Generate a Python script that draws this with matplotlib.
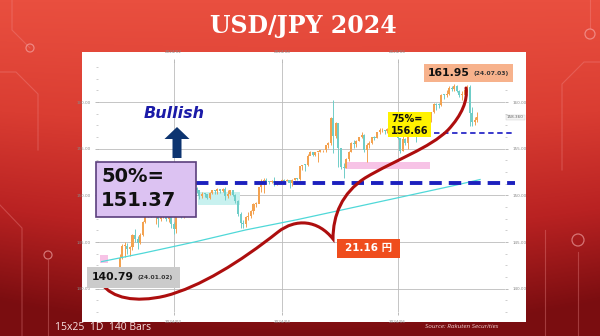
import numpy as np
import pandas as pd
import matplotlib.pyplot as plt
from matplotlib.patches import Rectangle, FancyArrow, PathPatch, Circle
from matplotlib.path import Path
from matplotlib.colors import LinearSegmentedColormap

# USD/JPY daily bars 2024-01-02 .. 2024-07-16
close_jan = [141.96, 143.29, 144.61, 144.62, 144.23, 144.43, 145.73, 145.31, 144.87, 145.73, 147.19,
             148.13, 148.16, 148.13, 148.12, 148.38, 147.45, 147.66, 148.15, 147.49, 147.66, 146.93]
high_jan = [142.20, 143.70, 144.80, 145.00, 144.90, 144.60, 145.90, 146.40, 145.60, 146.00, 147.30,
            148.50, 148.50, 148.40, 148.30, 148.70, 147.90, 147.80, 148.30, 148.20, 147.90, 147.80]
low_jan = [140.79, 142.20, 143.20, 143.40, 143.70, 143.50, 144.20, 145.00, 144.30, 144.80, 145.60,
           147.00, 147.70, 147.70, 147.80, 146.90, 146.60, 147.30, 147.60, 147.30, 147.20, 146.50]

close_feb = [146.44, 148.38, 148.69, 147.94, 148.18, 149.29, 149.27, 149.35, 150.80, 150.56, 149.95,
             150.19, 150.13, 149.70, 150.31, 150.53, 150.47, 150.69, 150.50, 150.67, 149.98]
high_feb = [147.10, 148.60, 148.90, 148.70, 148.40, 149.60, 149.50, 149.60, 150.90, 150.90, 150.60,
            150.40, 150.30, 150.20, 150.40, 150.60, 150.60, 150.80, 150.70, 150.80, 150.90]
low_feb = [145.90, 146.00, 148.20, 147.60, 147.60, 148.00, 149.00, 149.10, 149.30, 150.30, 149.60,
           149.70, 149.80, 149.60, 149.60, 150.20, 150.20, 150.20, 150.30, 150.40, 149.50]

close_mar = [150.10, 150.53, 150.00, 149.37, 148.05, 147.06, 146.94, 147.67, 147.77, 148.34, 149.04,
             149.12, 150.89, 151.26, 151.61, 151.43, 151.42, 151.54, 151.30, 151.36, 151.35]
high_mar = [150.60, 150.60, 150.60, 150.20, 149.50, 148.20, 147.40, 147.80, 148.20, 148.40, 149.20,
            149.30, 150.90, 151.80, 151.90, 151.90, 151.50, 151.70, 151.97, 151.50, 151.40]
low_mar = [149.70, 150.00, 149.90, 149.20, 147.80, 146.50, 146.50, 146.60, 147.40, 147.60, 148.00,
           148.80, 149.20, 150.40, 150.30, 151.20, 151.20, 151.30, 151.00, 151.10, 151.20]

close_apr = [151.63, 151.57, 151.68, 151.35, 151.61, 151.86, 151.78, 153.17, 153.29, 153.27, 154.23,
             154.68, 154.38, 154.64, 154.64, 154.82, 154.82, 155.35, 155.60, 158.32, 156.36, 157.80]
high_apr = [151.80, 151.80, 151.80, 151.70, 151.80, 151.90, 151.90, 153.20, 153.30, 153.40, 154.40,
            154.80, 154.70, 154.70, 154.70, 154.90, 154.90, 155.40, 155.70, 158.40, 160.20, 157.90]
low_apr = [151.30, 151.50, 151.50, 150.80, 151.00, 151.70, 151.60, 151.70, 152.70, 152.60, 153.10,
           154.30, 154.20, 154.20, 153.60, 154.60, 154.60, 154.70, 155.10, 155.40, 154.50, 156.20]

close_may = [155.04, 153.01, 152.97, 153.89, 154.67, 155.59, 155.48, 155.78, 156.21, 156.43, 154.89,
             155.41, 155.67, 156.28, 156.18, 156.78, 156.96, 156.99, 156.88, 157.17, 157.63, 156.81, 157.25]
high_may = [157.80, 155.00, 153.50, 154.00, 154.80, 155.70, 155.90, 155.90, 156.20, 156.80, 156.60,
            155.60, 155.80, 156.30, 156.40, 156.80, 157.20, 157.20, 157.00, 157.20, 157.70, 157.70, 157.30]
low_may = [153.00, 152.80, 151.86, 152.90, 153.70, 154.60, 155.10, 155.20, 155.80, 156.20, 154.70,
           153.60, 155.10, 155.50, 155.90, 156.10, 156.60, 156.80, 156.60, 156.70, 157.10, 156.40, 156.50]

close_jun = [156.10, 154.78, 156.09, 155.60, 156.73, 157.04, 157.13, 156.70, 157.07, 157.39,
             157.74, 157.85, 158.07, 158.89, 159.79, 159.70, 159.68, 160.80, 160.75, 160.88]
high_jun = [157.30, 156.20, 156.40, 156.20, 157.00, 157.20, 157.20, 157.50, 157.30, 158.30,
            157.90, 158.00, 158.20, 158.90, 159.90, 159.90, 159.90, 160.90, 160.90, 161.30]
low_jun = [156.00, 154.50, 154.80, 155.40, 155.00, 156.70, 156.90, 155.70, 156.60, 156.70,
           157.30, 157.60, 157.80, 157.90, 158.80, 159.20, 159.40, 159.60, 160.30, 160.60]

close_jul = [161.46, 161.45, 161.72, 161.22, 160.77, 160.80, 161.31, 161.67, 158.85, 157.84, 158.08, 158.36]
high_jul = [161.70, 161.70, 161.95, 161.80, 161.30, 161.20, 161.40, 161.80, 161.80, 159.50, 158.40, 158.90]
low_jul = [160.80, 161.20, 161.20, 161.10, 160.50, 160.20, 160.70, 161.10, 157.40, 157.40, 157.50, 157.90]

open_first = 141.00  # close of 2023-12-29

closes = close_jan + close_feb + close_mar + close_apr + close_may + close_jun + close_jul
highs = high_jan + high_feb + high_mar + high_apr + high_may + high_jun + high_jul
lows = low_jan + low_feb + low_mar + low_apr + low_may + low_jun + low_jul
opens = [open_first] + closes[:-1]
dates = pd.bdate_range('2024-01-02', '2024-07-16')

# 200-day moving average (cyan line), read at some bars
ma_idx = [-6, 10, 30, 50, 70, 90, 110, 130, 141]
ma_val = [142.9, 143.8, 145.0, 146.3, 147.4, 148.6, 149.8, 151.0, 151.7]

low_val, low_date = 140.79, '(24.01.02)'
high_val, high_date = 161.95, '(24.07.03)'
fib50 = 151.37
fib75 = 156.66
move_yen = 21.16

y_ticks = [140, 145, 150, 155, 160]
month_starts = ['2024-02', '2024-04', '2024-06']

W, H = 600, 336
fig = plt.figure(figsize=(6, 3.36), dpi=100)

# ---- background slide
bg = fig.add_axes([0, 0, 1, 1])
cmap = LinearSegmentedColormap.from_list('slide', ['#e94f3f', '#da3d32', '#b92222', '#7a0d10'])
yy = np.linspace(0, 1, H)[:, None]
xx = np.linspace(-1, 1, W)[None, :]
shade = np.clip(yy ** 1.1 + 0.12 * xx ** 2 * yy, 0, 1)
bg.imshow(shade, cmap=cmap, extent=[0, W, H, 0], aspect='auto', vmin=0, vmax=1)
bg.set_xlim(0, W)
bg.set_ylim(H, 0)
bg.axis('off')

# circuit decoration
circ_col = '#f29090'
for pts in [[(0, 72), (16, 72), (38, 94), (38, 150)],
            [(12, 0), (12, 30), (30, 48)],
            [(0, 205), (22, 228), (22, 336)],
            [(48, 260), (48, 336)],
            [(600, 62), (584, 62), (562, 84), (562, 170)],
            [(578, 252), (578, 336)],
            [(545, 230), (545, 336)],
            [(590, 0), (590, 28)]]:
    px, py = zip(*pts)
    bg.plot(px, py, color=circ_col, lw=0.8, alpha=0.35)
for cx, cy, r in [(30, 48, 4), (578, 240, 6), (590, 34, 5), (48, 255, 4)]:
    bg.add_patch(Circle((cx, cy), r, fill=False, ec='#f6b0b0', lw=0.9, alpha=0.6))

bg.add_patch(Rectangle((82, 52), 444, 270, fc='white', ec='none'))

bg.text(303, 26, 'USD/JPY 2024', ha='center', va='center', color='white',
        fontsize=17, fontweight='bold', family='DejaVu Serif')
bg.text(55, 327, '15x25  1D  140 Bars', ha='left', va='center', color='#f8e2e2',
        fontsize=7.5, family='Open Sans')
bg.text(425, 327, 'Source: Rakuten Securities', ha='left', va='center', color='#f0d0d0',
        fontsize=4.6, style='italic', family='Open Sans')

# ---- price chart
ax = fig.add_axes([98 / W, 1 - 312 / H, 407 / W, 250 / H])
ax.set_facecolor('none')
ax.set_xlim(-7.4, 150.7)
ax.set_ylim(137.54, 164.3)
for s in ax.spines.values():
    s.set_visible(False)

x = np.arange(len(closes))
o = np.array(opens)
c = np.array(closes)
up = c >= o
col = np.where(up, '#f3a250', '#6fcdc8')
ax.vlines(x, lows, highs, colors=col, lw=0.7, zorder=3)
ax.bar(x, np.maximum(np.abs(c - o), 0.1), bottom=np.minimum(o, c), width=0.8,
       color=col, zorder=3)

# indicator boxes
ax.add_patch(Rectangle((88.5, 152.85), 33, 0.75, fc='#f7c3e6', ec='none', zorder=2))
ax.add_patch(Rectangle((31.3, 149.0), 16.5, 1.4, fc='#c8f1ef', ec='none', zorder=2))
ax.add_patch(Rectangle((-6.6, 142.8), 3.1, 0.85, fc='#f7c3e6', ec='none', zorder=2))

ax.plot(ma_idx, ma_val, color='#4fd8d8', lw=0.9, zorder=4)

ax.set_yticks(y_ticks)
ax.set_yticklabels([f'{v:.2f}' for v in y_ticks])
ax.set_yticks(np.arange(137.5, 164.5, 1.25), minor=True)
mpos = [int(np.searchsorted(dates, pd.Timestamp(m))) for m in month_starts]
ax.set_xticks(mpos)
ax.set_xticklabels([m.replace('-', '/') for m in month_starts])
ax.tick_params(axis='both', which='major', labelsize=3, colors='#888888', length=2, width=0.4,
               labelleft=True, labelright=True, right=True, labeltop=True, top=True)
ax.tick_params(axis='y', which='minor', length=1.5, width=0.4, colors='#aaaaaa', right=True)
ax.grid(True, color='#bcbcbc', lw=0.6, zorder=1)

# fib lines
ax.plot([0.241, 1.025], [fib50, fib50], transform=ax.get_yaxis_transform(), clip_on=False,
        color='#1c20be', lw=2.8, dashes=(3.2, 1.8), zorder=6)
ax.plot([0.803, 1.025], [fib75, fib75], transform=ax.get_yaxis_transform(), clip_on=False,
        color='#2a2ac8', lw=1.3, dashes=(3, 2), zorder=6)

# last price tag
ax.text(1.005, closes[-1], f'{closes[-1]:.3f}', transform=ax.get_yaxis_transform(),
        fontsize=3, color='#666666', va='center', ha='left',
        bbox=dict(boxstyle='square,pad=0.2', fc='#f4f4f4', ec='#cccccc', lw=0.3))

# ---- annotation overlay (pixel coords)
ov = fig.add_axes([0, 0, 1, 1], zorder=5)
ov.set_facecolor('none')
ov.set_xlim(0, W)
ov.set_ylim(H, 0)
ov.axis('off')

brace = [(102, 284), (112, 298), (135, 303), (165, 296), (200, 287), (240, 262), (278, 232),
         (296, 218), (318, 220), (333, 239), (333, 215), (342, 193), (365, 178),
         (395, 160), (430, 148), (448, 130), (462, 115), (468, 100), (466, 88)]
codes = [Path.MOVETO] + [Path.CURVE4] * (len(brace) - 1)
ov.add_patch(PathPatch(Path(brace, codes), fc='none', ec='#ad0e0e', lw=2.2, capstyle='round'))

ov.text(174, 114, 'Bullish', ha='center', va='center', color='#1b1ba8', fontsize=11.5,
        fontweight='bold', style='italic', family='DejaVu Sans')
ov.add_patch(FancyArrow(177, 158, 0, -31, width=9, head_width=25, head_length=12,
                        length_includes_head=True, fc='#0d3470', ec='none'))

ov.add_patch(Rectangle((96, 162), 100, 55, fc='#dcc2f2', ec='#5b3f7d', lw=1.2))
ov.text(101, 177, '50%=', ha='left', va='center', fontsize=14, fontweight='bold', color='#111111')
ov.text(101, 201, f'{fib50:.2f}', ha='left', va='center', fontsize=14, fontweight='bold',
        color='#111111')

ov.add_patch(Rectangle((388, 112), 43, 25, fc='#fff200', ec='none'))
ov.text(391, 118.5, '75%=', ha='left', va='center', fontsize=7, fontweight='bold', color='#111111')
ov.text(391, 130.5, f'{fib75:.2f}', ha='left', va='center', fontsize=7, fontweight='bold',
        color='#111111')

ov.add_patch(Rectangle((424, 64), 89, 18, fc='#f7b28c', ec='none'))
ov.text(428, 73, f'{high_val:.2f}', ha='left', va='center', fontsize=7.8, fontweight='bold',
        color='#111111')
ov.text(473, 73.5, high_date, ha='left', va='center', fontsize=4.3, fontweight='bold',
        color='#333333')

ov.add_patch(Rectangle((87, 267), 93, 21, fc='#cbcbcb', ec='none'))
ov.text(92, 277.5, f'{low_val:.2f}', ha='left', va='center', fontsize=7.8, fontweight='bold',
        color='#111111')
ov.text(137, 278, low_date, ha='left', va='center', fontsize=4.3, fontweight='bold',
        color='#333333')

ov.add_patch(Rectangle((337, 239), 63, 19, fc='#ef4d1d', ec='none'))
ov.text(368.5, 248.5, f'{move_yen:.2f} 円', ha='center', va='center', fontsize=7.5,
        fontweight='bold', color='white', family=['DejaVu Sans', 'Noto Sans CJK JP'])

fig.savefig('out.png', dpi=100)
